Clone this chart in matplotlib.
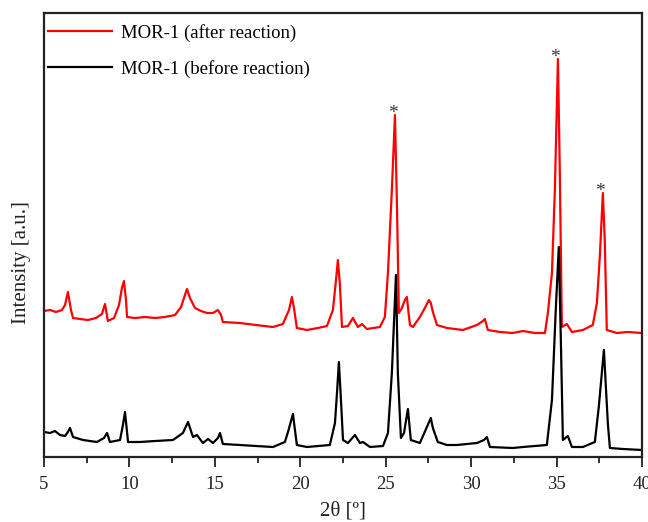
import matplotlib
matplotlib.use("Agg")
import matplotlib.pyplot as plt

plt.rcParams['font.family'] = ['Liberation Serif', 'DejaVu Serif']

# 2theta positions / intensities (a.u.) for MOR-1 after reaction (red)
after_2theta = [5.00, 5.35, 5.70, 6.05, 6.23, 6.40, 6.58, 6.70, 7.11, 7.57, 8.04, 8.39, 8.57, 8.74,
                9.10, 9.39, 9.56, 9.68, 9.80, 9.86, 10.32, 10.91, 11.49, 12.08, 12.67, 13.02, 13.25,
                13.37, 13.54, 13.84, 14.19, 14.54, 14.89, 15.18, 15.36, 15.47, 16.47, 17.40, 18.40,
                18.98, 19.34, 19.51, 19.63, 19.80, 20.39, 21.03, 21.56, 21.91, 22.09, 22.20, 22.32,
                22.44, 22.79, 23.08, 23.37, 23.61, 23.90, 24.66, 24.95, 25.13, 25.36, 25.54, 25.66,
                25.77, 25.95, 26.12, 26.24, 26.35, 26.42, 26.59, 27.00, 27.29, 27.53, 27.64, 27.76,
                28.00, 28.58, 29.52, 30.34, 30.69, 30.80, 30.98, 31.68, 32.44, 33.03, 33.73, 34.32,
                34.49, 34.73, 34.90, 35.08, 35.19, 35.31, 35.60, 35.90, 36.54, 37.12, 37.36, 37.53,
                37.71, 37.82, 37.94, 38.53, 39.17, 40.00]
after_int = [146, 147, 145, 147, 152, 165, 147, 139, 138, 137, 139, 143, 153, 136,
             139, 152, 169, 176, 157, 140, 139, 140, 139, 140, 142, 150, 162,
             168, 159, 149, 146, 144, 144, 147, 142, 135, 134, 132, 130,
             133, 147, 160, 149, 129, 127, 129, 131, 147, 177, 197, 172,
             130, 131, 139, 130, 133, 128, 130, 140, 184, 267, 342, 250,
             144, 149, 157, 160, 142, 132, 130, 140, 149, 157, 154, 145,
             132, 129, 127, 132, 136, 138, 127, 125, 124, 126, 124, 124,
             144, 184, 267, 398, 284, 130, 133, 125, 127, 132, 154, 200,
             264, 217, 127, 124, 125, 124]

# MOR-1 before reaction (black)
before_2theta = [5.00, 5.35, 5.64, 5.94, 6.23, 6.40, 6.52, 6.70, 7.28, 8.10, 8.51, 8.69, 8.86, 9.45,
                 9.62, 9.74, 9.86, 9.92, 10.62, 11.50, 12.55, 13.13, 13.43, 13.72, 13.95, 14.30,
                 14.60, 14.89, 15.18, 15.30, 15.47, 16.47, 17.40, 18.40, 19.10, 19.28, 19.57, 19.80,
                 20.39, 21.73, 22.03, 22.14, 22.26, 22.38, 22.50, 22.79, 23.20, 23.49, 23.67, 24.08,
                 24.84, 25.13, 25.36, 25.60, 25.71, 25.89, 26.07, 26.30, 26.47, 27.00, 27.41, 27.64,
                 27.76, 28.05, 28.58, 29.17, 30.34, 30.75, 30.92, 31.10, 32.44, 33.03, 34.43, 34.73,
                 34.96, 35.13, 35.25, 35.37, 35.66, 35.90, 36.54, 37.24, 37.47, 37.77, 38.00, 38.12,
                 38.88, 40.00]
before_int = [25, 24, 26, 22, 21, 25, 29, 20, 17, 15, 19, 24, 15, 17,
              32, 45, 25, 15, 15, 16, 17, 24, 35, 20, 22, 14,
              18, 14, 19, 24, 13, 12, 11, 10, 15, 25, 43, 12,
              10, 12, 34, 62, 95, 57, 17, 14, 22, 14, 15, 10,
              11, 24, 84, 182, 84, 19, 24, 48, 17, 14, 30, 39,
              29, 15, 12, 12, 14, 17, 20, 10, 9, 10, 12, 57,
              150, 210, 117, 17, 21, 10, 10, 15, 50, 107, 34, 9,
              8, 7]

# marked reflections (*)
star_2theta = [25.40, 34.92, 37.55]
star_int = [342, 398, 264]

labels = ['MOR-1 (after reaction)', 'MOR-1 (before reaction)']
x_ticks = [5, 10, 15, 20, 25, 30, 35, 40]

fig = plt.figure(figsize=(6.48, 5.22), dpi=100)
ax = fig.add_axes([44/648, 1 - 457/522, (642-44)/648, (457-13)/522])

ax.plot(after_2theta, after_int, color='#ff0000', lw=1.6, label=labels[0])
ax.plot(before_2theta, before_int, color='#000000', lw=1.6, label=labels[1])

for sx, sy in zip(star_2theta, star_int):
    ax.text(sx, sy - 3, '*', ha='center', va='baseline', fontsize=14, color='#333333')

ax.set_xlim(5, 40)
ax.set_ylim(0, 444)
ax.set_xticks(x_ticks)
ax.set_xticks([7.5 + 5*i for i in range(7)], minor=True)
ax.set_yticks([])
ax.tick_params(axis='x', which='major', direction='out', length=7, width=1.3,
               labelsize=13.5, colors='#222222', pad=7)
ax.tick_params(axis='x', which='minor', direction='out', length=4, width=1.3, colors='#222222')
for s in ax.spines.values():
    s.set_linewidth(1.6)
    s.set_color('#222222')

ax.set_xlabel('2θ [º]', fontsize=15, color='#222222', labelpad=6)
ax.set_ylabel('Intensity [a.u.]', fontsize=15, color='#222222')
ax.yaxis.set_label_coords(-0.022, 0.437)

ax.legend(loc='upper left', bbox_to_anchor=(0.0, 0.984), frameon=False, fontsize=13.5,
          handlelength=3.45, handletextpad=0.48, labelspacing=0.95,
          borderaxespad=0.2, borderpad=0.0)

fig.savefig('out.png', dpi=100)
